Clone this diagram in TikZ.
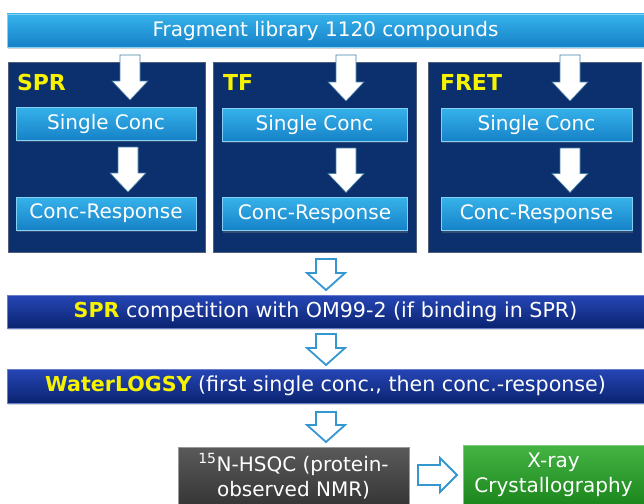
\documentclass[tikz,border=0pt]{standalone}
\usepackage{fontspec}
\setmainfont{DejaVu Sans}
\usetikzlibrary{shadows,calc}
\definecolor{lightA}{HTML}{36B2EA}
\definecolor{lightB}{HTML}{1682C8}
\definecolor{navy}{HTML}{0C2F6E}
\definecolor{barA}{HTML}{2646B6}
\definecolor{barB}{HTML}{0A2470}
\definecolor{grayA}{HTML}{5A5A5A}
\definecolor{grayB}{HTML}{363636}
\definecolor{greenA}{HTML}{44B444}
\definecolor{greenB}{HTML}{1C861C}
\definecolor{hollowblue}{HTML}{3597CF}
\definecolor{labelyellow}{HTML}{F6F200}
% #1 style, #2 cx, #3 from node, #4 to node, #5 shaft half, #6 head half, #7 head length, #8 top gap, #9 tip gap
\newcommand\vblock[9]{%
  \path[#1] let \p1=(#3.south), \p2=(#4.north) in
    ({#2pt-#5pt},{\y1-#8pt}) -- ({#2pt+#5pt},{\y1-#8pt})
    -- ({#2pt+#5pt},{\y2+#9pt+#7pt}) -- ({#2pt+#6pt},{\y2+#9pt+#7pt})
    -- (#2pt,{\y2+#9pt}) -- ({#2pt-#6pt},{\y2+#9pt+#7pt})
    -- ({#2pt-#5pt},{\y2+#9pt+#7pt}) -- cycle;}
% #1 style, #2 cy (canvas, negative), #3 from, #4 to, #5 shaft half, #6 head half, #7 head len, #8 start gap, #9 tip gap
\newcommand\hblock[9]{%
  \path[#1] let \p1=(#3.east), \p2=(#4.west) in
    ({\x1+#8pt},{#2pt+#5pt}) -- ({\x2-#9pt-#7pt},{#2pt+#5pt})
    -- ({\x2-#9pt-#7pt},{#2pt+#6pt}) -- ({\x2-#9pt},#2pt)
    -- ({\x2-#9pt-#7pt},{#2pt-#6pt}) -- ({\x2-#9pt-#7pt},{#2pt-#5pt})
    -- ({\x1+#8pt},{#2pt-#5pt}) -- cycle;}
\begin{document}
\begin{tikzpicture}[x=1pt,y=-1pt,
  every node/.style={inner sep=0pt, outer sep=0pt},
  basefont/.style={font=\fontsize{20}{25}\selectfont},
  barfont/.style={font=\fontsize{20.6}{25}\selectfont},
  lightbox/.style={rectangle, basefont, text=white, top color=lightA, bottom color=lightB,
    draw=lightA!60!white, line width=0.5pt,
    drop shadow={shadow xshift=1pt, shadow yshift=-2pt, opacity=0.35}},
  panel/.style={rectangle, fill=navy, draw=gray!60!navy, line width=0.6pt},
  darkbar/.style={rectangle, barfont, text=white, top color=barA, bottom color=barB,
    draw=barA!70!white, line width=0.5pt,
    drop shadow={shadow xshift=1pt, shadow yshift=-2pt, opacity=0.3}},
  graybox/.style={rectangle, basefont, text=white, top color=grayA, bottom color=grayB,
    draw=gray!80!white, line width=0.5pt, align=center},
  greenbox/.style={rectangle, basefont, text=white, top color=greenA, bottom color=greenB,
    draw=greenA!70!white, line width=0.5pt, align=center},
  paneltitle/.style={font=\fontsize{22}{26}\selectfont\bfseries, text=labelyellow, anchor=base west},
  whitearrow/.style={fill=white, draw=gray!45!lightB, line width=0.6pt, line join=miter},
  hollowarrow/.style={fill=white, draw=hollowblue, line width=1.8pt, line join=miter}
]
\useasboundingbox (0,0) rectangle (644,503);
\clip (0,0) rectangle (644,503);

% top bar
\node[lightbox, minimum width=637pt, minimum height=33pt] (lib) at (325.5,30.5) {Fragment library 1120 compounds};

% panels
\node[panel, minimum width=197pt, minimum height=190pt] (pspr) at (106.5,157) {};
\node[panel, minimum width=203pt, minimum height=190pt] (ptf) at (314.5,157) {};
\node[panel, minimum width=213pt, minimum height=190pt] (pfret) at (534.5,157) {};

\node[paneltitle] (tspr) at (17,90) {SPR};
\node[paneltitle] (ttf) at (223,90) {TF};
\node[paneltitle] (tfret) at (440,90) {FRET};

\node[lightbox, minimum width=180pt, minimum height=33pt] (sc1) at (106,123.5) {Single Conc};
\node[lightbox, minimum width=185pt, minimum height=33pt] (sc2) at (314.5,124.5) {Single Conc};
\node[lightbox, minimum width=191pt, minimum height=33pt] (sc3) at (536.5,124.5) {Single Conc};

\node[lightbox, minimum width=180pt, minimum height=33pt] (cr1) at (106,213.5) {Conc-Response};
\node[lightbox, minimum width=185pt, minimum height=33pt] (cr2) at (314.5,214) {Conc-Response};
\node[lightbox, minimum width=191pt, minimum height=33pt] (cr3) at (536.5,214) {Conc-Response};

% white arrows in panels
\vblock{whitearrow}{130}{lib}{sc1}{10}{18}{19}{8}{7}
\vblock{whitearrow}{346}{lib}{sc2}{10}{18}{19}{8}{7}
\vblock{whitearrow}{570}{lib}{sc3}{10}{18}{19}{8}{7}
\vblock{whitearrow}{128}{sc1}{cr1}{10}{18}{19}{7}{5}
\vblock{whitearrow}{346}{sc2}{cr2}{10}{18}{19}{7}{5}
\vblock{whitearrow}{570}{sc3}{cr3}{10}{18}{19}{7}{5}

% lower bars
\node[darkbar, minimum width=637pt, minimum height=33pt] (comp) at (325.5,311.5)
  {\textcolor{labelyellow}{\bfseries SPR} competition with OM99-2 (if binding in SPR)};
\node[darkbar, minimum width=637pt, minimum height=34pt] (wl) at (325.5,386)
  {\textcolor{labelyellow}{\bfseries WaterLOGSY} (first single conc., then conc.-response)};

\node[graybox, minimum width=231pt, minimum height=58pt] (hsqc) at (293.5,476)
  {\textsuperscript{15}N-HSQC (protein-\\observed NMR)};
\node[greenbox, minimum width=181pt, minimum height=60pt] (xray) at (553.5,475)
  {X-ray\\Crystallography};

% hollow arrows
\vblock{hollowarrow}{326}{ptf}{comp}{10}{19}{17}{7}{5}
\vblock{hollowarrow}{326}{comp}{wl}{10}{19}{17}{6}{4}
\vblock{hollowarrow}{326}{wl}{hsqc}{10}{19}{17}{9}{5}
\hblock{hollowarrow}{-475}{hsqc}{xray}{10}{17}{17}{9}{6}
\end{tikzpicture}
\end{document}
